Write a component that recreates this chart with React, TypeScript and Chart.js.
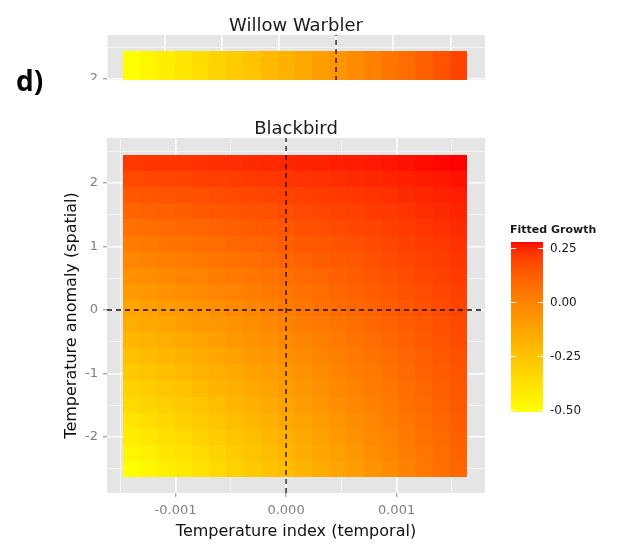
import React, { useEffect, useRef } from 'react';
import { Chart, registerables } from 'chart.js';

Chart.register(...registerables);

// ---------------- data ----------------
// Blackbird panel: cell centres (temporal index on x, spatial anomaly on y)
const xCenters = [
  -0.0013972, -0.0012416, -0.0010859, -0.0009303, -0.0007746, -0.000619, -0.0004633, -0.0003077,
  -0.000152, 0.0000036, 0.0001593, 0.0003149, 0.0004706, 0.0006262, 0.0007819, 0.0009375,
  0.0010932, 0.0012488, 0.0014045, 0.0015601,
];
const yCenters = [
  -2.5033, -2.2498, -1.9963, -1.7428, -1.4893, -1.2358, -0.9823, -0.7288, -0.4753, -0.2218,
  0.0317, 0.2852, 0.5387, 0.7922, 1.0457, 1.2992, 1.5527, 1.8062, 2.0597, 2.3132,
];
// fitted growth, one row per yCenter (bottom row first), one value per xCenter
const growth = [
  [-0.510, -0.478, -0.446, -0.414, -0.382, -0.350, -0.317, -0.285, -0.253, -0.221, -0.189, -0.157, -0.125, -0.093, -0.061, -0.028, 0.004, 0.036, 0.068, 0.100],
  [-0.472, -0.441, -0.411, -0.380, -0.350, -0.319, -0.288, -0.258, -0.227, -0.197, -0.166, -0.135, -0.105, -0.074, -0.044, -0.013, 0.018, 0.048, 0.079, 0.109],
  [-0.433, -0.404, -0.375, -0.346, -0.317, -0.288, -0.259, -0.230, -0.201, -0.172, -0.143, -0.113, -0.084, -0.055, -0.026, 0.003, 0.032, 0.061, 0.090, 0.119],
  [-0.395, -0.367, -0.340, -0.312, -0.285, -0.257, -0.230, -0.202, -0.175, -0.147, -0.120, -0.092, -0.065, -0.037, -0.010, 0.018, 0.045, 0.073, 0.100, 0.128],
  [-0.356, -0.330, -0.304, -0.278, -0.252, -0.226, -0.200, -0.174, -0.148, -0.122, -0.096, -0.070, -0.044, -0.018, 0.008, 0.034, 0.060, 0.086, 0.112, 0.138],
  [-0.318, -0.294, -0.269, -0.245, -0.220, -0.196, -0.171, -0.147, -0.122, -0.098, -0.073, -0.049, -0.024, 0.000, 0.025, 0.049, 0.074, 0.098, 0.123, 0.147],
  [-0.279, -0.256, -0.233, -0.210, -0.187, -0.164, -0.141, -0.118, -0.095, -0.072, -0.049, -0.027, -0.004, 0.019, 0.042, 0.065, 0.088, 0.111, 0.134, 0.157],
  [-0.241, -0.220, -0.198, -0.177, -0.155, -0.134, -0.112, -0.091, -0.070, -0.048, -0.027, -0.005, 0.016, 0.038, 0.059, 0.080, 0.102, 0.123, 0.145, 0.166],
  [-0.203, -0.183, -0.163, -0.143, -0.123, -0.103, -0.083, -0.063, -0.043, -0.023, -0.003, 0.016, 0.036, 0.056, 0.076, 0.096, 0.116, 0.136, 0.156, 0.176],
  [-0.164, -0.146, -0.127, -0.109, -0.091, -0.072, -0.054, -0.035, -0.017, 0.001, 0.020, 0.038, 0.056, 0.075, 0.093, 0.112, 0.130, 0.148, 0.167, 0.185],
  [-0.126, -0.109, -0.092, -0.075, -0.058, -0.041, -0.025, -0.008, 0.009, 0.026, 0.043, 0.060, 0.077, 0.094, 0.111, 0.127, 0.144, 0.161, 0.178, 0.195],
  [-0.087, -0.072, -0.056, -0.041, -0.026, -0.010, 0.005, 0.020, 0.036, 0.051, 0.066, 0.082, 0.097, 0.112, 0.127, 0.143, 0.158, 0.173, 0.189, 0.204],
  [-0.049, -0.035, -0.021, -0.007, 0.006, 0.020, 0.034, 0.048, 0.062, 0.076, 0.089, 0.103, 0.117, 0.131, 0.145, 0.159, 0.172, 0.186, 0.200, 0.214],
  [-0.010, 0.002, 0.015, 0.027, 0.039, 0.051, 0.064, 0.076, 0.088, 0.100, 0.113, 0.125, 0.137, 0.149, 0.162, 0.174, 0.186, 0.198, 0.211, 0.223],
  [0.028, 0.039, 0.050, 0.060, 0.071, 0.082, 0.093, 0.104, 0.114, 0.125, 0.136, 0.147, 0.157, 0.168, 0.179, 0.190, 0.201, 0.211, 0.222, 0.233],
  [0.066, 0.075, 0.085, 0.094, 0.103, 0.112, 0.122, 0.131, 0.140, 0.149, 0.159, 0.168, 0.177, 0.186, 0.196, 0.205, 0.214, 0.223, 0.233, 0.242],
  [0.105, 0.113, 0.120, 0.128, 0.136, 0.144, 0.151, 0.159, 0.167, 0.175, 0.182, 0.190, 0.198, 0.206, 0.213, 0.221, 0.229, 0.237, 0.244, 0.252],
  [0.143, 0.149, 0.155, 0.162, 0.168, 0.174, 0.180, 0.186, 0.193, 0.199, 0.205, 0.211, 0.218, 0.224, 0.230, 0.236, 0.242, 0.249, 0.255, 0.261],
  [0.182, 0.187, 0.191, 0.196, 0.201, 0.205, 0.210, 0.215, 0.219, 0.224, 0.229, 0.233, 0.238, 0.243, 0.248, 0.252, 0.257, 0.262, 0.266, 0.271],
  [0.220, 0.223, 0.226, 0.229, 0.233, 0.236, 0.239, 0.242, 0.245, 0.248, 0.252, 0.255, 0.258, 0.261, 0.264, 0.267, 0.271, 0.274, 0.277, 0.280],
];

// Willow Warbler panel (only its top strip is visible)
const willowX = [
  -0.0017867, -0.0016364, -0.001486, -0.0013357, -0.0011853, -0.001035, -0.0008846, -0.0007343,
  -0.0005839, -0.0004336, -0.0002832, -0.0001329, 0.0000175, 0.0001678, 0.0003182, 0.0004685,
  0.0006189, 0.0007692, 0.0009196, 0.0010699,
];
const willowGrowth = [
  -0.51, -0.473, -0.436, -0.399, -0.362, -0.325, -0.288, -0.251, -0.214, -0.177,
  -0.140, -0.103, -0.066, -0.029, 0.008, 0.045, 0.082, 0.119, 0.156, 0.193,
];

// axes
const xRange = [-0.00162, 0.0018];
const yRange = [-2.882, 2.709];
const willowXRange = [-0.002002, 0.001302];
const willowYRange = [0.4095, 2.693];
const xMajorTicks = [-0.001, 0, 0.001];
const xTickLabels = ['-0.001', '0.000', '0.001'];
const yMajorTicks = [-2, -1, 0, 1, 2];
const yTickLabels = ['-2', '-1', '0', '1', '2'];
const legendTicks = [0.25, 0, -0.25, -0.5];
const legendLabels = ['0.25', '0.00', '-0.25', '-0.50'];

// ---------------- colour (ggplot-like Lab gradient yellow -> red) ----------------
const FONT = "'DejaVu Sans', 'Liberation Sans', sans-serif";
const LOW = [255, 255, 0];
const HIGH = [255, 0, 0];

function toLin(c: number) {
  const v = c / 255;
  return v <= 0.04045 ? v / 12.92 : Math.pow((v + 0.055) / 1.055, 2.4);
}
function fromLin(c: number) {
  const v = c <= 0.0031308 ? 12.92 * c : 1.055 * Math.pow(Math.max(c, 0), 1 / 2.4) - 0.055;
  return Math.round(Math.min(1, Math.max(0, v)) * 255);
}
function rgbToLab(rgb: number[]) {
  const R = toLin(rgb[0]), G = toLin(rgb[1]), B = toLin(rgb[2]);
  const X = (0.4124 * R + 0.3576 * G + 0.1805 * B) / 0.95047;
  const Y = 0.2126 * R + 0.7152 * G + 0.0722 * B;
  const Z = (0.0193 * R + 0.1192 * G + 0.9505 * B) / 1.08883;
  const f = (t: number) => (t > 0.008856 ? Math.cbrt(t) : 7.787 * t + 16 / 116);
  return [116 * f(Y) - 16, 500 * (f(X) - f(Y)), 200 * (f(Y) - f(Z))];
}
function labToRgb(L: number, a: number, b: number) {
  const fy = (L + 16) / 116, fx = fy + a / 500, fz = fy - b / 200;
  const inv = (t: number) => (t * t * t > 0.008856 ? t * t * t : (t - 16 / 116) / 7.787);
  const X = 0.95047 * inv(fx), Y = inv(fy), Z = 1.08883 * inv(fz);
  const r = 3.2406 * X - 1.5372 * Y - 0.4986 * Z;
  const g = -0.9689 * X + 1.8758 * Y + 0.0415 * Z;
  const bb = 0.0557 * X - 0.204 * Y + 1.057 * Z;
  return `rgb(${fromLin(r)},${fromLin(g)},${fromLin(bb)})`;
}
const LAB_LOW = rgbToLab(LOW);
const LAB_HIGH = rgbToLab(HIGH);
const allValues = growth.flat();
const VMIN = Math.min(...allValues);
const VMAX = Math.max(...allValues);
function colorFor(v: number) {
  const t = Math.min(1, Math.max(0, (v - VMIN) / (VMAX - VMIN)));
  return labToRgb(
    LAB_LOW[0] + (LAB_HIGH[0] - LAB_LOW[0]) * t,
    LAB_LOW[1] + (LAB_HIGH[1] - LAB_LOW[1]) * t,
    LAB_LOW[2] + (LAB_HIGH[2] - LAB_LOW[2]) * t,
  );
}

// ---------------- helpers ----------------
function edgesOf(c: number[]) {
  const e: number[] = [];
  for (let i = 0; i <= c.length; i++) {
    if (i === 0) e.push(c[0] - (c[1] - c[0]) / 2);
    else if (i === c.length) e.push(c[i - 1] + (c[i - 1] - c[i - 2]) / 2);
    else e.push((c[i - 1] + c[i]) / 2);
  }
  return e;
}
const isIn = (list: number[], v: number) => list.some((m) => Math.abs(m - v) < 1e-9);
const labelFrom = (majors: number[], labels: string[]) => (v: any) => {
  const k = majors.findIndex((m) => Math.abs(m - Number(v)) < 1e-9);
  return k >= 0 ? labels[k] : '';
};

function heatPlugin(xs: number[], ys: number[], valueAt: (i: number, j: number) => number) {
  const xe = edgesOf(xs);
  const ye = edgesOf(ys);
  return {
    id: 'heat',
    beforeDatasetsDraw(chart: any) {
      const { ctx, chartArea, scales } = chart;
      ctx.save();
      ctx.beginPath();
      ctx.rect(chartArea.left, chartArea.top, chartArea.right - chartArea.left, chartArea.bottom - chartArea.top);
      ctx.clip();
      for (let j = 0; j < ys.length; j++) {
        const y0 = Math.round(scales.y.getPixelForValue(ye[j + 1]));
        const y1 = Math.round(scales.y.getPixelForValue(ye[j]));
        for (let i = 0; i < xs.length; i++) {
          const x0 = Math.round(scales.x.getPixelForValue(xe[i]));
          const x1 = Math.round(scales.x.getPixelForValue(xe[i + 1]));
          ctx.fillStyle = colorFor(valueAt(i, j));
          ctx.fillRect(x0, y0, x1 - x0, y1 - y0);
        }
      }
      ctx.restore();
    },
  };
}

const panelBg = {
  id: 'panelBg',
  beforeDraw(chart: any) {
    const { ctx, chartArea } = chart;
    ctx.save();
    ctx.fillStyle = '#E5E5E5';
    ctx.fillRect(chartArea.left, chartArea.top, chartArea.right - chartArea.left, chartArea.bottom - chartArea.top);
    ctx.restore();
  },
};

function titlePlugin(text: string, baseline: number) {
  return {
    id: 'panelTitle',
    afterDraw(chart: any) {
      const { ctx, chartArea } = chart;
      ctx.save();
      ctx.font = `18px ${FONT}`;
      ctx.fillStyle = '#1a1a1a';
      ctx.textAlign = 'center';
      ctx.textBaseline = 'alphabetic';
      ctx.fillText(text, (chartArea.left + chartArea.right) / 2, baseline);
      ctx.restore();
    },
  };
}

const legendPlugin = {
  id: 'gradLegend',
  afterDraw(chart: any) {
    const { ctx } = chart;
    const left = 511, right = 543, top = 242, bottom = 412;
    const toY = (v: number) => top + ((VMAX - v) / (VMAX - VMIN)) * (bottom - top);
    ctx.save();
    for (let py = top; py < bottom; py++) {
      const v = VMAX - ((py + 0.5 - top) / (bottom - top)) * (VMAX - VMIN);
      ctx.fillStyle = colorFor(v);
      ctx.fillRect(left, py, right - left, 1);
    }
    ctx.strokeStyle = '#ffffff';
    ctx.lineWidth = 1;
    ctx.font = `12px ${FONT}`;
    ctx.fillStyle = '#1a1a1a';
    ctx.textAlign = 'left';
    ctx.textBaseline = 'middle';
    legendTicks.forEach((t, k) => {
      const y = Math.round(toY(t)) + 0.5;
      ctx.beginPath();
      ctx.moveTo(left, y);
      ctx.lineTo(left + 5, y);
      ctx.moveTo(right - 5, y);
      ctx.lineTo(right, y);
      ctx.stroke();
      ctx.fillText(legendLabels[k], 550, y);
    });
    ctx.font = `bold 11px ${FONT}`;
    ctx.textBaseline = 'alphabetic';
    ctx.fillText('Fitted Growth', 510, 233);
    ctx.font = "bold 28px 'Open Sans', 'Liberation Sans', sans-serif";
    ctx.fillStyle = '#000';
    ctx.fillText('d)', 16, 91);
    ctx.restore();
  },
};

function gridOpts(majors: number[], showTicks: boolean) {
  return {
    color: (c: any) => (isIn(majors, c.tick?.value) ? '#ffffff' : '#F4F4F4'),
    lineWidth: (c: any) => (isIn(majors, c.tick?.value) ? 1.6 : 1),
    drawTicks: showTicks,
    tickLength: 4,
    tickWidth: 1,
    tickColor: (c: any) => (isIn(majors, c.tick?.value) ? '#8a8a8a' : 'rgba(0,0,0,0)'),
  };
}

function refLine(points: { x: number; y: number }[]) {
  return {
    type: 'line' as const,
    data: points,
    showLine: true,
    borderColor: '#111111',
    borderWidth: 1.3,
    borderDash: [5, 4],
    pointRadius: 0,
    fill: false,
  };
}

export default function App() {
  const mainRef = useRef<HTMLCanvasElement>(null);
  const topRef = useRef<HTMLCanvasElement>(null);

  useEffect(() => {
    const cellPoints: any[] = [];
    yCenters.forEach((y, j) => xCenters.forEach((x, i) => cellPoints.push({ x, y, v: growth[j][i] })));

    const main = new Chart(mainRef.current as HTMLCanvasElement, {
      type: 'scatter',
      data: {
        datasets: [
          { label: 'Fitted Growth', data: cellPoints, pointRadius: 0 } as any,
          refLine([{ x: 0, y: yRange[0] }, { x: 0, y: yRange[1] }]),
          refLine([{ x: xRange[0], y: 0 }, { x: xRange[1], y: 0 }]),
        ],
      },
      options: {
        responsive: false,
        animation: false,
        devicePixelRatio: 1,
        layout: { padding: { left: 0, right: 133, top: 138, bottom: 0 } },
        plugins: { legend: { display: false }, tooltip: { enabled: false } },
        scales: {
          x: {
            type: 'linear',
            min: xRange[0],
            max: xRange[1],
            afterFit: (s: any) => { s.height = 51; },
            border: { display: false },
            grid: gridOpts(xMajorTicks, true) as any,
            ticks: {
              stepSize: 0.0005,
              includeBounds: false,
              autoSkip: false,
              maxRotation: 0,
              minRotation: 0,
              padding: 6,
              color: '#7f7f7f',
              font: { family: FONT, size: 13 },
              callback: labelFrom(xMajorTicks, xTickLabels),
            },
            title: {
              display: true,
              text: 'Temperature index (temporal)',
              color: '#111',
              font: { family: FONT, size: 16 },
              padding: { top: 0, bottom: 2.4 },
            },
          },
          y: {
            type: 'linear',
            min: yRange[0],
            max: yRange[1],
            afterFit: (s: any) => { s.width = 107; },
            border: { display: false },
            grid: gridOpts(yMajorTicks, true) as any,
            ticks: {
              stepSize: 0.5,
              includeBounds: false,
              autoSkip: false,
              padding: 5,
              color: '#7f7f7f',
              font: { family: FONT, size: 13 },
              callback: labelFrom(yMajorTicks, yTickLabels),
            },
            title: {
              display: true,
              text: 'Temperature anomaly (spatial)',
              color: '#111',
              font: { family: FONT, size: 16 },
              padding: { top: 62.4, bottom: 0 },
            },
          },
        },
      } as any,
      plugins: [panelBg, heatPlugin(xCenters, yCenters, (i, j) => growth[j][i]), titlePlugin('Blackbird', 134), legendPlugin],
    });

    const willowPoints: any[] = [];
    yCenters.forEach((y) => willowX.forEach((x, i) => willowPoints.push({ x, y, v: willowGrowth[i] })));
    const willowMajors = [-0.002, -0.0015, -0.001, -0.0005, 0, 0.0005, 0.001];

    const top = new Chart(topRef.current as HTMLCanvasElement, {
      type: 'scatter',
      data: {
        datasets: [
          { label: 'Fitted Growth', data: willowPoints, pointRadius: 0 } as any,
          refLine([{ x: 0, y: willowYRange[0] }, { x: 0, y: willowYRange[1] }]),
        ],
      },
      options: {
        responsive: false,
        animation: false,
        devicePixelRatio: 1,
        layout: { padding: { left: 0, right: 133, top: 35, bottom: 0 } },
        plugins: { legend: { display: false }, tooltip: { enabled: false } },
        scales: {
          x: {
            type: 'linear',
            min: willowXRange[0],
            max: willowXRange[1],
            afterFit: (s: any) => { s.height = 20; },
            border: { display: false },
            grid: gridOpts(willowMajors, false) as any,
            ticks: { stepSize: 0.0005, includeBounds: false, display: false },
          },
          y: {
            type: 'linear',
            min: willowYRange[0],
            max: willowYRange[1],
            afterFit: (s: any) => { s.width = 107; },
            border: { display: false },
            grid: gridOpts(yMajorTicks, true) as any,
            ticks: {
              stepSize: 0.5,
              includeBounds: false,
              autoSkip: false,
              padding: 5,
              color: '#7f7f7f',
              font: { family: FONT, size: 13 },
              callback: labelFrom(yMajorTicks, yTickLabels),
            },
          },
        },
      } as any,
      plugins: [panelBg, heatPlugin(willowX, yCenters, (i) => willowGrowth[i]), titlePlugin('Willow Warbler', 31)],
    });

    return () => {
      main.destroy();
      top.destroy();
    };
  }, []);

  return (
    <div style={{ position: 'fixed', left: 0, top: 0, width: 618, height: 544, background: '#ffffff', overflow: 'hidden' }}>
      <canvas ref={mainRef} width={618} height={544} style={{ position: 'absolute', left: 0, top: 0 }} />
      <div style={{ position: 'absolute', left: 0, top: 0, width: 618, height: 80, overflow: 'hidden' }}>
        <canvas ref={topRef} width={618} height={200} style={{ position: 'absolute', left: 0, top: 0 }} />
      </div>
    </div>
  );
}
